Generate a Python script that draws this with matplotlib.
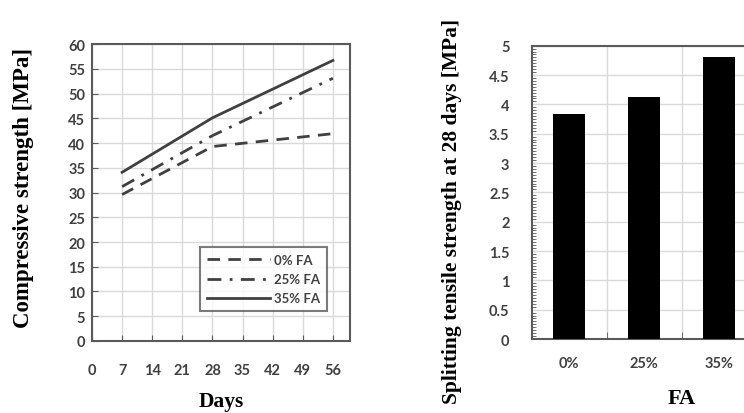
import numpy as np
import matplotlib.pyplot as plt
from matplotlib.ticker import MultipleLocator

days = [7, 28, 56]
fa_0 = [29.6, 39.3, 41.9]
fa_25 = [31.2, 41.5, 53.1]
fa_35 = [34.1, 45.1, 56.7]
series_labels = ["0% FA", "25% FA", "35% FA"]

fa_levels = ["0%", "25%", "35%"]
tensile = [3.84, 4.13, 4.81]

tick_font = "Lato"
label_font = "Liberation Serif"
ink = "#404040"
frame = "#5a5a5a"
gridc = "#d9d9d9"

fig = plt.figure(figsize=(7.44, 4.14), dpi=100)

"""
compressive strength
"""
ax1 = fig.add_axes([0.1237, 0.174, 0.3468, 0.717])
ax1.plot(days, fa_0, color=ink, linewidth=2, dashes=(4.5, 3), label=series_labels[0])
ax1.plot(days, fa_25, color=ink, linewidth=2, dashes=(5, 3, 1, 3), label=series_labels[1])
ax1.plot(days, fa_35, color=ink, linewidth=2, label=series_labels[2])
ax1.set_xlim(0, 60)
ax1.set_ylim(0, 60)
ax1.set_xticks(np.arange(0, 57, 7))
ax1.set_yticks(np.arange(0, 61, 5))
ax1.grid(True, color=gridc, linewidth=1)
ax1.set_axisbelow(True)
ax1.tick_params(direction="in", length=4, color=frame, labelsize=10.5, labelcolor=ink)
ax1.tick_params(axis="x", pad=16)
ax1.tick_params(axis="y", pad=5)
for lab in ax1.get_xticklabels() + ax1.get_yticklabels():
    lab.set_fontfamily(tick_font)
    lab.set_fontweight("bold")
for s in ax1.spines.values():
    s.set_color(frame)
    s.set_linewidth(1.5)
ax1.set_xlabel("Days", fontsize=15.5, fontweight="bold", family=label_font, labelpad=10)
ax1.set_ylabel("Compressive strength [MPa]", fontsize=16.5, fontweight="bold", family=label_font)
ax1.yaxis.set_label_coords(-0.225, 0.518)
leg = ax1.legend(loc="lower left", bbox_to_anchor=(0.419, 0.101), borderaxespad=0,
                 fancybox=False, edgecolor=frame, handlelength=4.8,
                 labelcolor=ink, prop={"family": tick_font, "weight": "bold", "size": 9.5},
                 borderpad=0.5, labelspacing=0.55, handletextpad=0.3)
leg.get_frame().set_linewidth(1.5)

"""
splitting tensile strength
"""
ax2 = fig.add_axes([0.7147, 0.1787, 0.403, 0.7085])
x = np.arange(len(fa_levels))
ax2.bar(x, tensile, width=0.43, color="black", zorder=3)
ax2.set_xlim(-0.5, 3.5)
ax2.set_ylim(0, 5)
ax2.set_yticks(np.arange(0, 5.01, 0.5))
ax2.set_yticklabels(["0", "0.5", "1", "1.5", "2", "2.5", "3", "3.5", "4", "4.5", "5"])
ax2.yaxis.set_minor_locator(MultipleLocator(0.05))
ax2.set_xticks(x)
ax2.set_xticklabels(fa_levels)
ax2.set_xticks([0.5, 1.5, 2.5], minor=True)
ax2.grid(True, axis="y", color=gridc, linewidth=1)
ax2.grid(True, axis="x", which="minor", color=gridc, linewidth=1)
ax2.set_axisbelow(True)
ax2.tick_params(axis="x", which="major", length=0, pad=12, labelsize=10.5, labelcolor=ink)
ax2.tick_params(axis="x", which="minor", direction="in", length=5, color=frame)
ax2.tick_params(axis="y", which="major", direction="in", length=0, pad=16, labelsize=10.5, labelcolor=ink)
ax2.tick_params(axis="y", which="minor", direction="in", length=3, color=frame, width=0.6)
for lab in ax2.get_xticklabels() + ax2.get_yticklabels():
    lab.set_fontfamily(tick_font)
    lab.set_fontweight("bold")
for s in ax2.spines.values():
    s.set_color(frame)
    s.set_linewidth(1.5)
ax2.set_xlabel("FA", fontsize=16, fontweight="bold", family=label_font, labelpad=13)
ax2.set_ylabel("Splitting tensile strength at 28 days [MPa]", fontsize=15.5, fontweight="bold",
               family=label_font)
ax2.yaxis.set_label_coords(-0.232, 0.44)

fig.savefig("out.png", dpi=100)
